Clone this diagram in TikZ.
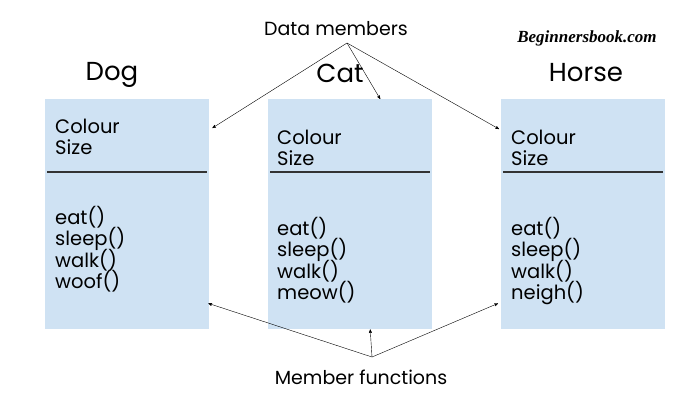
\documentclass[tikz,border=0pt]{standalone}
\usepackage{fontspec}
\setmainfont{Poppins}
\newfontfamily\logofont{Liberation Serif}
\usetikzlibrary{arrows,positioning}
\definecolor{boxblue}{HTML}{CFE2F3}
\definecolor{rulegrey}{HTML}{333333}
\newcommand{\memberfont}{\fontsize{19.5}{21.3}\selectfont\lineskiplimit=-20pt\relax}
\tikzset{
    %Define standard arrow tip
    >=stealth',
    %Define style for class boxes
    classbox/.style={
           rectangle,
           fill=boxblue,
           minimum width=164pt,
           minimum height=230pt,
           anchor=north west,
           inner sep=0pt},
    classname/.style={
           font=\fontsize{26}{30}\selectfont},
    members/.style={
           align=left,
           inner sep=0pt,
           font=\memberfont},
    caption/.style={
           font=\fontsize{19}{22}\selectfont},
    divider/.style={
           draw=rulegrey,
           line width=1.6pt},
    % Define arrow style
    pointer/.style={
           ->,
           thin}
}
\begin{document}
\begin{tikzpicture}[x=1pt,y=-1pt]
\useasboundingbox (0,0) rectangle (700,400);
 %boxes
\node[classbox](dog) at (45,99){};
\node[classbox](cat) at (268,99){};
\node[classbox](horse) at (501,99){};
 %names
\node[classname](dogname) at (112,75){Dog};
\node[classname](catname) at (340,73){Cat};
\node[classname](horsename) at (586,73){Horse};
 %dividers
\foreach \c in {dog,cat,horse}
    \draw[divider] ([xshift=2pt,yshift=-73pt]\c.north west) -- ([xshift=-2pt,yshift=-73pt]\c.north east);
 %data members
\node[members, below right=20pt and 10pt of dog.north west](dogdata){Colour\\Size};
\node[members, below right=31pt and 9pt of cat.north west](catdata){Colour\\Size};
\node[members, below right=31pt and 10pt of horse.north west](horsedata){Colour\\Size};
 %member functions
\node[members, below right=107pt and 10pt of dog.north west](dogfun){eat()\\sleep()\\walk()\\woof()};
\node[members, below right=118pt and 9pt of cat.north west](catfun){eat()\\sleep()\\walk()\\meow()};
\node[members, below right=118pt and 10pt of horse.north west](horsefun){eat()\\sleep()\\walk()\\neigh()};
 %captions
\node[caption](datacap) at (336,29){Data members};
\node[caption](funcap) at (361,377){Member functions};
\node[font=\logofont\bfseries\itshape\fontsize{17}{20}\selectfont](logo) at (587,38){Beginnersbook.com};
\coordinate (datafoot) at (347,43);
\coordinate (funtop) at (372,357);
\path[pointer]
    (datafoot) edge ([xshift=3pt,yshift=-29pt]dog.north east)
    (datafoot) edge ([xshift=30pt]cat.north)
    (datafoot) edge ([xshift=-2pt,yshift=-30pt]horse.north west)
    (funtop) edge ([xshift=-1pt,yshift=26pt]dog.south east)
    (funtop) edge ([xshift=20pt]cat.south)
    (funtop) edge ([xshift=-3pt,yshift=26pt]horse.south west);
\end{tikzpicture}
\end{document}
